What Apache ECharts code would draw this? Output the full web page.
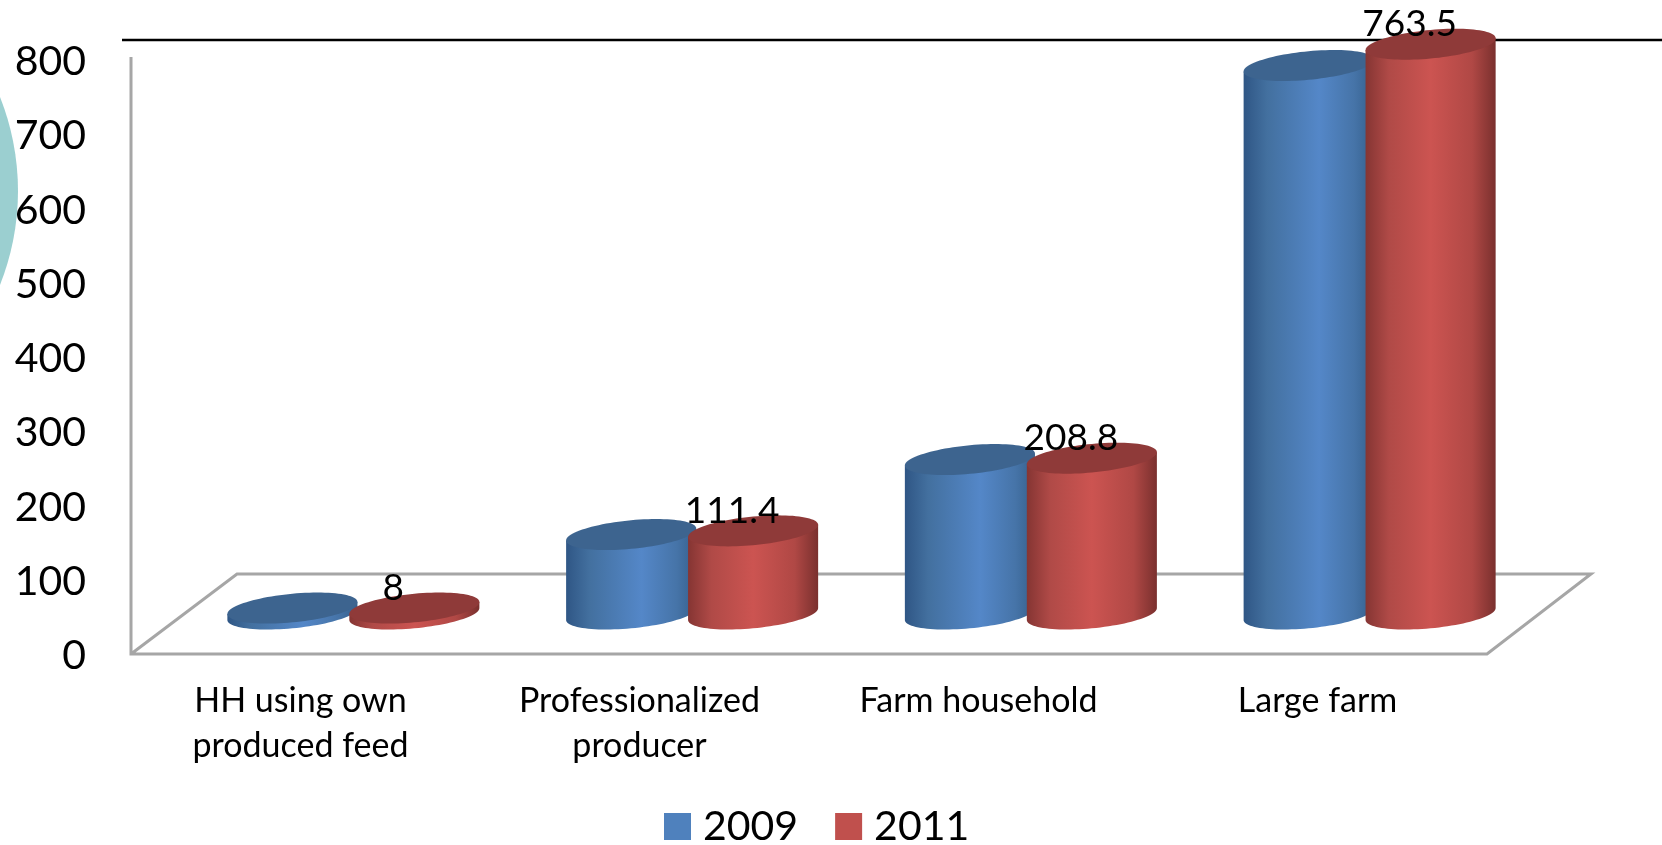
<!DOCTYPE html>
<html>
<head>
<meta charset="utf-8">
<style>html,body{margin:0;padding:0;background:#fff}#c{width:1662px;height:845px}</style>
<script src="https://cdn.jsdelivr.net/npm/echarts@6/dist/echarts.min.js"></script>
</head>
<body>
<div id="c"></div>
<script>
const categories = ['HH using own\nproduced feed', 'Professionalized\nproducer', 'Farm household', 'Large farm'];
const seriesNames = ['2009', '2011'];
const values2009 = [8, 106.5, 207, 735];
const values2011 = [8, 111.4, 208.8, 763.5];
const labels2011 = ['8', '111.4', '208.8', '763.5'];

const FONT = 'Lato';
const GREY = '#a6a6a6';

function cylinder(colors, side, labels) {
  return function (params, api) {
    const i = api.value(0), v = api.value(1);
    const top = api.coord([i, v]);
    const base = api.coord([i, 0]);
    const band = api.size([1, 0])[0];
    const a = band * 0.192, h = 14.3, s = 6;
    const cx = top[0] + side * band * 0.18;
    const yT = top[1], yB = base[1];
    const body = [[cx - a, yT + s], [cx + a, yT - s]];
    for (let k = 0; k <= 48; k++) {
      const t = Math.PI * k / 48;
      body.push([cx + a * Math.cos(t), yB + h * Math.sin(t) - s * Math.cos(t)]);
    }
    const cap = [];
    for (let k = 0; k < 96; k++) {
      const t = 2 * Math.PI * k / 96;
      cap.push([cx + a * Math.cos(t), yT + h * Math.sin(t) - s * Math.cos(t)]);
    }
    const children = [
      { type: 'polygon', shape: { points: body }, style: {
        fill: { type: 'linear', x: 0, y: 0, x2: 1, y2: 0, colorStops: colors.stops }
      } },
      { type: 'polygon', shape: { points: cap }, style: { fill: colors.cap } }
    ];
    if (labels) {
      children.push({ type: 'text', z2: 10, style: {
        text: labels[i], x: cx - 21, y: yT - 20, align: 'center', verticalAlign: 'middle',
        font: '37px ' + FONT, fill: '#000'
      } });
    }
    return { type: 'group', children };
  };
}

const blue = { cap: '#3d648f', stops: [
  { offset: 0, color: '#2f5685' }, { offset: 0.18, color: '#43709f' },
  { offset: 0.58, color: '#5487c8' }, { offset: 0.85, color: '#4674a8' }, { offset: 1, color: '#355f8c' }
] };
const red = { cap: '#8f3a39', stops: [
  { offset: 0, color: '#853533' }, { offset: 0.18, color: '#b04a47' },
  { offset: 0.5, color: '#cc5451' }, { offset: 0.82, color: '#b04845' }, { offset: 1, color: '#7a302e' }
] };

const chart = echarts.init(document.getElementById('c'), null, { renderer: 'canvas' });
chart.setOption({
  animation: false,
  backgroundColor: '#fff',
  textStyle: { fontFamily: FONT },
  grid: [
    { left: 131, top: 62, width: 1356, height: 594 },
    { left: 184, top: 17, width: 1355, height: 597 }
  ],
  xAxis: [
    { gridIndex: 0, type: 'category', data: categories,
      axisLine: { show: false }, axisTick: { show: false },
      axisLabel: { fontFamily: FONT, fontSize: 34, color: '#000', lineHeight: 45, margin: 23, interval: 0 } },
    { gridIndex: 1, type: 'category', data: categories, show: false }
  ],
  yAxis: [
    { gridIndex: 0, type: 'value', min: 0, max: 800, interval: 100,
      axisLine: { show: false }, axisTick: { show: false }, splitLine: { show: false },
      axisLabel: { fontFamily: FONT, fontSize: 41, color: '#000', margin: 45 } },
    { gridIndex: 1, type: 'value', min: 0, max: 800, show: false, splitLine: { show: false } }
  ],
  legend: {
    left: 664, top: 806, padding: 0, itemWidth: 27, itemHeight: 27, itemGap: 37, icon: 'rect',
    data: seriesNames,
    textStyle: { fontFamily: FONT, fontSize: 41, color: '#000', padding: [0, 0, 0, 7] }
  },
  graphic: { elements: [
    { type: 'circle', silent: true, z: -10, shape: { cx: -236, cy: 191, r: 254 }, style: { fill: '#9bcfd0' } },
    { type: 'line', silent: true, z: -5, shape: { x1: 122, y1: 40, x2: 1662, y2: 40 }, style: { stroke: '#000', lineWidth: 2.5 } },
    { type: 'polyline', silent: true, z: -5,
      shape: { points: [[131, 57], [131, 654], [1487, 654], [1591, 574], [237, 574], [131, 654]] },
      style: { stroke: GREY, lineWidth: 3, fill: 'none' } }
  ] },
  series: [
    { name: seriesNames[0], type: 'custom', xAxisIndex: 1, yAxisIndex: 1, z: 3, clip: false,
      itemStyle: { color: '#4f81bd' }, encode: { x: 0, y: 1 },
      renderItem: cylinder(blue, -1, null),
      data: values2009.map((v, i) => [i, v]) },
    { name: seriesNames[1], type: 'custom', xAxisIndex: 1, yAxisIndex: 1, z: 4, clip: false,
      itemStyle: { color: '#c0504d' }, encode: { x: 0, y: 1 },
      renderItem: cylinder(red, 1, labels2011),
      data: values2011.map((v, i) => [i, v]) }
  ]
});
</script>
</body>
</html>
